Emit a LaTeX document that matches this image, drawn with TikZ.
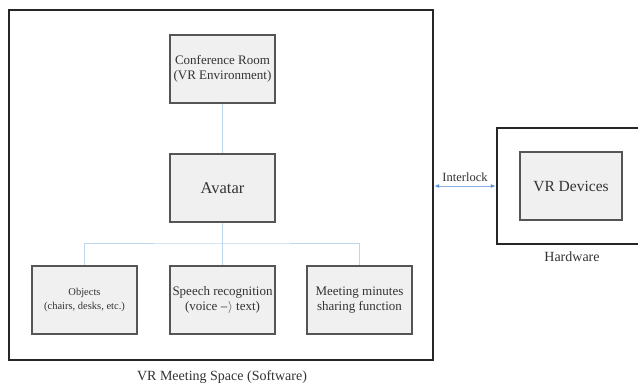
\documentclass[tikz,border=0pt]{standalone}
\usepackage{fontspec}
\setmainfont{Liberation Serif}
\usetikzlibrary{arrows.meta}
\definecolor{boxfill}{HTML}{F0F0F0}
\definecolor{boxline}{HTML}{555555}
\definecolor{linkblue}{HTML}{BDD7EE}
\definecolor{arrowblue}{HTML}{5B8FDB}
\definecolor{ink}{HTML}{333333}
\tikzset{
  module/.style={draw=boxline, fill=boxfill, line width=1.4pt, minimum width=105pt,
    minimum height=68pt, align=center, inner sep=1pt, text=ink, font=\fontsize{13}{15.5}\selectfont},
  frame/.style={draw=black!85, line width=2.4pt, inner sep=0pt},
  link/.style={draw=linkblue, line width=1pt},
  caption/.style={text=ink, inner sep=0pt, font=\fontsize{14}{16}\selectfont}
}
\begin{document}
\begin{tikzpicture}[x=1pt, y=-1pt]
  \clip (0,0) rectangle (638,384);
  \fill[white] (0,0) rectangle (638,384);

  % software frame and hardware frame
  \node[frame, minimum width=424pt, minimum height=350pt] (sw) at (221,185) {};
  \node[frame, minimum width=180pt, minimum height=116pt] (hw) at (587,186) {};

  % modules
  \node[module] (room) at (222.5,69) {Conference Room\\(VR Environment)};
  \node[module, font=\fontsize{16.5}{19}\selectfont] (avatar) at (222.5,188) {Avatar};
  \node[module, font=\fontsize{10.5}{13.5}\selectfont] (objects) at (84.5,300) {Objects\\(chairs, desks, etc.)};
  \node[module] (speech) at (222.5,300) {Speech recognition\\(voice --\kern1pt$\rangle$ text)};
  \node[module] (minutes) at (359.5,300) {Meeting minutes\\sharing function};
  \node[module, minimum width=102pt, font=\fontsize{15.5}{18}\selectfont] (vr) at (571,186) {VR Devices};

  % captions
  \node[caption] (swlabel) at (222,377) {VR Meeting Space (Software)};
  \node[caption] (hwlabel) at (572,257) {Hardware};

  % connectors
  \coordinate (bus) at (222.5,243);
  \draw[link] (room) -- (avatar);
  \draw[link] (avatar) -- (bus);
  \draw[link] (objects.north) |- (bus) -| (minutes.north);
  \draw[link] (bus) -- (speech);

  % interlock between software and hardware
  \draw[draw=arrowblue!70, line width=1pt, {Latex[length=5pt,width=4pt,color=arrowblue]}-{Latex[length=5pt,width=4pt,color=arrowblue]}]
    (sw.east |- hw.west) -- node[above=4pt, text=ink, inner sep=0pt, font=\fontsize{12.5}{14}\selectfont] (interlock) {Interlock} (hw.west);
\end{tikzpicture}
\end{document}
